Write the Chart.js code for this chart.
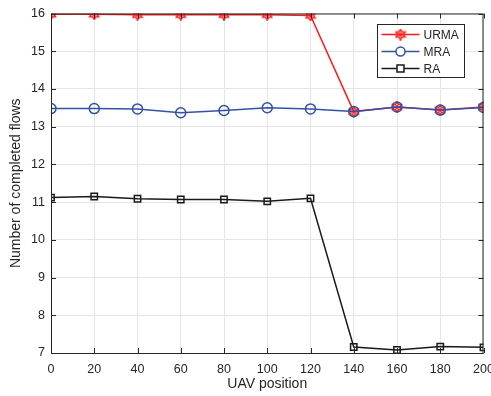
<!DOCTYPE html>
<html><head><meta charset="utf-8">
<script src="https://cdn.jsdelivr.net/npm/chart.js@4/dist/chart.umd.min.js"></script>
<style>html,body{margin:0;padding:0;background:#fff}#wrap{width:491px;height:396px}</style>
</head><body><div id="wrap"><canvas id="c" width="491" height="396"></canvas></div>
<script>
const positions = [0,20,40,60,80,100,120,140,160,180,200];
const urma = [15.98,15.98,15.97,15.97,15.97,15.97,15.95,13.40,13.52,13.44,13.52];
const mra  = [13.48,13.48,13.47,13.37,13.43,13.50,13.47,13.40,13.52,13.44,13.51];
const ra   = [11.12,11.15,11.09,11.07,11.07,11.02,11.10,7.16,7.08,7.17,7.15];
const yTicks = [7,8,9,10,11,12,13,14,15,16];
const xTicks = [0,20,40,60,80,100,120,140,160,180,200];
const seriesNames = ['URMA','MRA','RA'];
const FONT = '"Liberation Sans", Arial, sans-serif';

function hexagram(color){
  const c=document.createElement('canvas'); c.width=12; c.height=12;
  const g=c.getContext('2d'); const cx=6, cy=6, R=5.2, r=3;
  g.beginPath();
  for(let i=0;i<12;i++){const a=-Math.PI/2+i*Math.PI/6; const rr=i%2?r:R; g.lineTo(cx+rr*Math.cos(a), cy+rr*Math.sin(a));}
  g.closePath(); g.strokeStyle=color; g.lineWidth=1.5; g.stroke();
  g.beginPath(); g.arc(cx,cy,1.3,0,Math.PI*2); g.stroke();
  return c;
}
const star = hexagram('#ff1a1a');
const pts = a => a.map((v,i)=>({x:positions[i], y:v}));

const boxPlugin = {
  id:'box',
  afterDraw(chart){
    const {ctx, chartArea:a, scales} = chart;
    ctx.save();
    ctx.strokeStyle='#262626'; ctx.lineWidth=1;
    ctx.strokeRect(a.left+0.5, a.top+0.5, a.right-a.left-1, a.bottom-a.top);
    ctx.beginPath();
    xTicks.forEach(v=>{const x=Math.round(scales.x.getPixelForValue(v))+0.5;
      ctx.moveTo(x,a.bottom); ctx.lineTo(x,a.bottom-5); ctx.moveTo(x,a.top); ctx.lineTo(x,a.top+5);});
    yTicks.forEach(v=>{const y=Math.round(scales.y.getPixelForValue(v))+0.5;
      ctx.moveTo(a.left,y); ctx.lineTo(a.left+5,y); ctx.moveTo(a.right,y); ctx.lineTo(a.right-5,y);});
    ctx.stroke();
    const lx=377.5, ly=24.5, lw=87, lh=53;
    ctx.fillStyle='#fff'; ctx.fillRect(lx,ly,lw,lh);
    ctx.strokeStyle='#262626'; ctx.strokeRect(lx,ly,lw,lh);
    ctx.font='12px '+FONT; ctx.textBaseline='middle'; ctx.textAlign='left';
    chart.data.datasets.forEach((ds,i)=>{
      const y=ly+10+i*17;
      ctx.strokeStyle=ds.borderColor; ctx.lineWidth=1.5;
      ctx.beginPath(); ctx.moveTo(lx+4,y); ctx.lineTo(lx+42,y); ctx.stroke();
      const mx=lx+23;
      if(i===0){ ctx.drawImage(star, mx-6, y-6); }
      else if(i===1){ ctx.beginPath(); ctx.arc(mx,y,4.5,0,Math.PI*2); ctx.fillStyle='#fff'; ctx.fill(); ctx.stroke(); }
      else { ctx.fillStyle='#fff'; ctx.fillRect(mx-3.5,y-3.5,7,7); ctx.strokeRect(mx-3.5,y-3.5,7,7); }
      ctx.fillStyle='#262626'; ctx.fillText(seriesNames[i], lx+46, y+1);
    });
    ctx.restore();
  }
};

new Chart(document.getElementById('c'), {
  type:'line',
  data:{datasets:[
    {label:seriesNames[0], order:3, data:pts(urma), borderColor:'#ff1a1a', borderWidth:1.5, pointStyle:star, pointRadius:6, tension:0},
    {label:seriesNames[1], order:2, data:pts(mra), borderColor:'#3352a6', backgroundColor:'rgba(0,0,0,0)', borderWidth:1.5, pointStyle:'circle', pointRadius:5, pointBorderWidth:1.5, tension:0},
    {label:seriesNames[2], order:1, data:pts(ra), borderColor:'#1a1a1a', backgroundColor:'rgba(0,0,0,0)', borderWidth:1.5, pointStyle:'rect', pointRadius:4.5, pointBorderWidth:1.5, tension:0}
  ]},
  options:{
    responsive:false, animation:false, devicePixelRatio:1,
    layout:{padding:{left:8,right:0,top:7,bottom:0}},
    plugins:{legend:{display:false}, tooltip:{enabled:false}},
    scales:{
      x:{type:'linear', min:0, max:200,
        afterBuildTicks(s){ s.ticks = xTicks.map(v=>({value:v})); },
        afterFit(s){ s.height = 43; s.paddingRight = 0; },
        grid:{color:'#e5e5e5', drawTicks:false}, border:{display:false},
        ticks:{color:'#262626', font:{family:FONT, size:12.5}, padding:9, maxRotation:0},
        title:{display:true, text:'UAV position', color:'#262626', font:{family:FONT, size:14}, padding:{top:2,bottom:3}}},
      y:{type:'linear', min:7, max:16,
        afterBuildTicks(s){ s.ticks = yTicks.map(v=>({value:v})); },
        afterFit(s){ s.width = 43; },
        grid:{color:'#e5e5e5', drawTicks:false}, border:{display:false},
        ticks:{color:'#262626', font:{family:FONT, size:12.5}, padding:6},
        title:{display:true, text:'Number of completed flows', color:'#262626', font:{family:FONT, size:14}, padding:{top:0,bottom:2}}}
    }
  },
  plugins:[boxPlugin]
});
</script></body></html>
